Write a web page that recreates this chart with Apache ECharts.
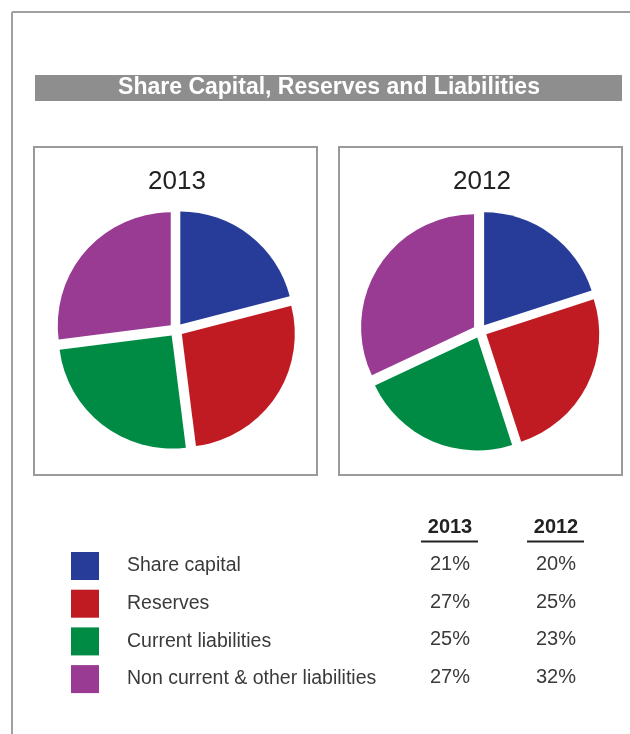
<!DOCTYPE html>
<html>
<head>
<meta charset="utf-8">
<script src="https://cdn.jsdelivr.net/npm/echarts@6/dist/echarts.min.js"></script>
<style>
  html, body { margin: 0; padding: 0; background: #fff; }
  #chart { width: 630px; height: 734px; }
</style>
</head>
<body>
<div id="chart"></div>
<script>
const categories = ['Share capital', 'Reserves', 'Current liabilities', 'Non current & other liabilities'];
const colors = ['#273c98', '#c01b22', '#008b45', '#993b93'];
const years = ['2013', '2012'];
const values_2013 = [21, 27, 25, 27];
const values_2012 = [20, 25, 23, 32];
const chart_title = 'Share Capital, Reserves and Liabilities';

const font_family = '"Liberation Sans", Arial, sans-serif';
let chart = echarts.init(document.getElementById('chart'), null, { renderer: 'canvas' });

// panel centres for each year
const panels = [
    { year: years[0], values: values_2013, box_x: 34, center: [176, 330], col_x: 450 },
    { year: years[1], values: values_2012, box_x: 339, center: [480, 331], col_x: 556 },
];

let graphics = [
    // outer frame
    { type: 'line', shape: { x1: 12, y1: 12, x2: 630, y2: 12 }, style: { stroke: '#a0a0a0', lineWidth: 2 } },
    { type: 'line', shape: { x1: 12, y1: 12, x2: 12, y2: 734 }, style: { stroke: '#a0a0a0', lineWidth: 2 } },
    // title bar
    { type: 'rect', shape: { x: 35, y: 75, width: 587, height: 26 }, style: { fill: '#8e8e8e' } },
    {
        type: 'text', x: 329, y: 88,
        style: { text: chart_title, fill: '#fff', font: 'bold 23px ' + font_family, textAlign: 'center', textVerticalAlign: 'middle' }
    },
];

panels.forEach(p => {
    graphics.push({ type: 'rect', shape: { x: p.box_x, y: 147, width: 283, height: 328 }, style: { fill: 'none', stroke: '#9a9a9a', lineWidth: 2 } });
    graphics.push({
        type: 'text', x: p.box_x + 143, y: 182,
        style: { text: p.year, fill: '#222', font: '26px ' + font_family, textAlign: 'center', textVerticalAlign: 'middle' }
    });
    // table column header + underline
    graphics.push({
        type: 'text', x: p.col_x, y: 527,
        style: { text: p.year, fill: '#222', font: 'bold 20px ' + font_family, textAlign: 'center', textVerticalAlign: 'middle' }
    });
    graphics.push({ type: 'line', shape: { x1: p.col_x - 29, y1: 541.5, x2: p.col_x + 28, y2: 541.5 }, style: { stroke: '#222', lineWidth: 2 } });
    p.values.forEach((v, i) => {
        graphics.push({
            type: 'text', x: p.col_x, y: 564.5 + i * 37.7,
            style: { text: v + '%', fill: '#3a3a3a', font: '20px ' + font_family, textAlign: 'center', textVerticalAlign: 'middle' }
        });
    });
});

let series = panels.map(p => ({
    type: 'pie',
    name: p.year,
    center: p.center,
    radius: 113,
    startAngle: 90,
    clockwise: true,
    selectedMode: 'multiple',
    selectedOffset: 7,
    label: { show: false },
    labelLine: { show: false },
    emphasis: { disabled: true },
    select: { itemStyle: { borderWidth: 0 } },
    data: categories.map((name, i) => ({
        name: name,
        value: p.values[i],
        selected: true,
        itemStyle: { color: colors[i] },
    })),
}));

chart.setOption({
    animation: false,
    backgroundColor: '#fff',
    legend: {
        orient: 'vertical',
        left: 71,
        top: 552,
        padding: 0,
        itemWidth: 28,
        itemHeight: 28,
        itemGap: 9.7,
        icon: 'rect',
        selectedMode: false,
        data: categories,
        textStyle: { fontFamily: font_family, fontSize: 19.5, color: '#3a3a3a', padding: [0, 0, 2, 23] },
    },
    tooltip: { show: false },
    graphic: graphics,
    series: series,
});
</script>
</body>
</html>
